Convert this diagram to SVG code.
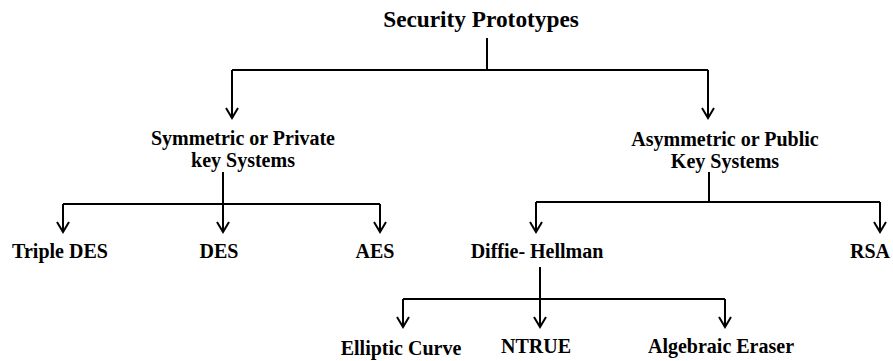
<svg xmlns="http://www.w3.org/2000/svg" width="893" height="361" viewBox="0 0 893 361">
  <style>
    .lbl { font-family: "Liberation Serif", "Times New Roman", serif; font-weight: bold; font-size: 20px; fill: #000; text-anchor: middle; }
    .title { font-size: 23.3px; }
    .wire { fill: none; stroke: #000; stroke-width: 2; }
    .arr { fill: none; stroke: #000; stroke-width: 2; marker-end: url(#chev); }
  </style>
  <defs>
    <marker id="chev" markerUnits="userSpaceOnUse" markerWidth="14" markerHeight="16" viewBox="-12 -8 14 16" refX="0" refY="0" orient="auto">
      <path d="M-10,-6 L0,0 L-10,6" fill="none" stroke="#000" stroke-width="2"/>
    </marker>
  </defs>
  <rect width="893" height="361" fill="#fff"/>

  <g id="connectors">
    <!-- root fan-out -->
    <path class="wire" d="M487,38 V70 M232,70 H708"/>
    <path class="arr" d="M232,70 V118"/>
    <path class="arr" d="M708,70 V118"/>
    <!-- symmetric branch -->
    <path class="wire" d="M223,172 V204 M63,204 H380"/>
    <path class="arr" d="M63,204 V232"/>
    <path class="arr" d="M223,204 V232"/>
    <path class="arr" d="M380,204 V232"/>
    <!-- asymmetric branch -->
    <path class="wire" d="M709,172 V202 M536,202 H880"/>
    <path class="arr" d="M536,202 V232"/>
    <path class="arr" d="M880,202 V232"/>
    <!-- Diffie-Hellman branch -->
    <path class="wire" d="M540,267 V299 M403,299 H725"/>
    <path class="arr" d="M403,299 V327"/>
    <path class="arr" d="M540,299 V327"/>
    <path class="arr" d="M725,299 V327"/>
  </g>

  <g id="root"><text class="lbl title" x="481" y="27">Security Prototypes</text></g>
  <g id="symmetric">
    <text class="lbl" x="243" y="145">Symmetric or Private</text>
    <text class="lbl" x="243" y="167">key Systems</text>
  </g>
  <g id="asymmetric">
    <text class="lbl" x="725" y="146">Asymmetric or Public</text>
    <text class="lbl" x="725" y="168">Key Systems</text>
  </g>
  <g id="triple-des"><text class="lbl" x="60" y="258">Triple DES</text></g>
  <g id="des"><text class="lbl" x="219" y="258">DES</text></g>
  <g id="aes"><text class="lbl" x="375" y="258">AES</text></g>
  <g id="diffie-hellman"><text class="lbl" x="537" y="258">Diffie- Hellman</text></g>
  <g id="rsa"><text class="lbl" x="870" y="258">RSA</text></g>
  <g id="elliptic-curve"><text class="lbl" x="401" y="355">Elliptic Curve</text></g>
  <g id="ntrue"><text class="lbl" x="536" y="353">NTRUE</text></g>
  <g id="algebraic-eraser"><text class="lbl" x="721" y="353">Algebraic Eraser</text></g>
</svg>
